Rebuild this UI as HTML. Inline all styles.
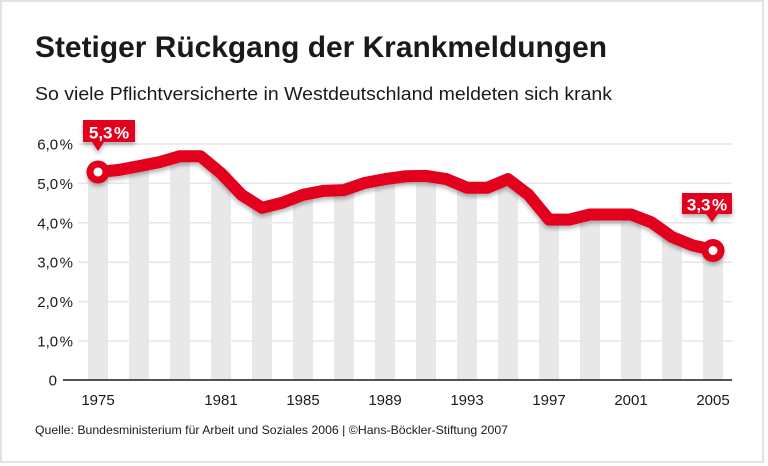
<!DOCTYPE html>
<html><head><meta charset="utf-8"><style>
html,body{margin:0;padding:0;background:#fff;}
svg{display:block;}
text{font-family:"Liberation Sans",Arial,sans-serif;}
</style></head><body>
<svg width="768" height="466" viewBox="0 0 768 466" xmlns="http://www.w3.org/2000/svg">
<defs>
<filter id="sh" x="-5%" y="-20%" width="110%" height="150%">
<feGaussianBlur in="SourceAlpha" stdDeviation="2"/>
<feOffset dx="0" dy="3" result="b"/>
<feComponentTransfer><feFuncA type="linear" slope="0.3"/></feComponentTransfer>
<feMerge><feMergeNode/><feMergeNode in="SourceGraphic"/></feMerge>
</filter>
</defs>
<rect x="0" y="0" width="768" height="466" fill="#fff"/>
<rect x="1" y="1" width="762" height="461" fill="none" stroke="#e2e2e2" stroke-width="2"/>

<text x="35" y="57" font-size="29.5" font-weight="bold" fill="#1a1a1a" textLength="572" lengthAdjust="spacingAndGlyphs">Stetiger Rückgang der Krankmeldungen</text>
<text x="35" y="100" font-size="18.5" fill="#1a1a1a" textLength="577" lengthAdjust="spacingAndGlyphs">So viele Pflichtversicherte in Westdeutschland meldeten sich krank</text>

<!-- gridlines -->
<g stroke="#e6e6e6" stroke-width="1.5">
<line x1="78" y1="144" x2="732" y2="144"/>
<line x1="78" y1="183.4" x2="732" y2="183.4"/>
<line x1="78" y1="222.8" x2="732" y2="222.8"/>
<line x1="78" y1="262.2" x2="732" y2="262.2"/>
<line x1="78" y1="301.6" x2="732" y2="301.6"/>
<line x1="78" y1="341" x2="732" y2="341"/>
</g>

<!-- bars (odd years) -->
<g fill="#e8e8e8">
<rect x="88" y="172" width="20" height="208"/>
<rect x="129" y="166" width="20" height="214"/>
<rect x="170" y="156" width="20" height="224"/>
<rect x="211" y="173" width="20" height="207"/>
<rect x="252" y="208" width="20" height="172"/>
<rect x="293" y="195" width="20" height="185"/>
<rect x="334" y="190" width="20" height="190"/>
<rect x="375" y="179" width="20" height="201"/>
<rect x="416" y="176" width="20" height="204"/>
<rect x="457" y="188" width="20" height="192"/>
<rect x="498" y="179" width="20" height="201"/>
<rect x="539" y="220" width="20" height="160"/>
<rect x="580" y="215" width="20" height="165"/>
<rect x="621" y="215" width="20" height="165"/>
<rect x="662" y="237" width="20" height="143"/>
<rect x="703" y="250" width="20" height="130"/>
</g>

<!-- axis -->
<line x1="63" y1="380" x2="732" y2="380" stroke="#1a1a1a" stroke-width="1.6"/>

<!-- y labels -->
<g font-size="15" fill="#1a1a1a" text-anchor="end">
<text x="73" y="149.5">6,0<tspan dx="1.5">%</tspan></text>
<text x="73" y="188.9">5,0<tspan dx="1.5">%</tspan></text>
<text x="73" y="228.3">4,0<tspan dx="1.5">%</tspan></text>
<text x="73" y="267.7">3,0<tspan dx="1.5">%</tspan></text>
<text x="73" y="307.1">2,0<tspan dx="1.5">%</tspan></text>
<text x="73" y="346.5">1,0<tspan dx="1.5">%</tspan></text>
<text x="57" y="385.5">0</text>
</g>

<!-- x labels -->
<g font-size="15" fill="#1a1a1a" text-anchor="middle">
<text x="98" y="405">1975</text>
<text x="221" y="405">1981</text>
<text x="303" y="405">1985</text>
<text x="385" y="405">1989</text>
<text x="467" y="405">1993</text>
<text x="549" y="405">1997</text>
<text x="631" y="405">2001</text>
<text x="713" y="405">2005</text>
</g>

<!-- line -->
<g filter="url(#sh)">
<polyline fill="none" stroke="#e2001a" stroke-width="12" stroke-linejoin="round" stroke-linecap="round"
points="98,172 118.5,170 139,166.1 159.5,162.1 180,156.2 200.5,156.2 221,173.2 241.5,194.8 262,207.8 282.5,202.7 303,194.8 323.5,190.9 344,190.1 364.5,183 385,179.1 405.5,176.3 426,175.9 446.5,179.1 467,187.7 487.5,187.7 508,179.1 528.5,194.8 549,219.6 569.5,219.6 590,214.5 610.5,214.5 631,214.5 651.5,222.4 672,237 692.5,245.3 713,250"/>
<circle cx="98" cy="172" r="11.5" fill="#e2001a"/>
<circle cx="713" cy="250.5" r="11.5" fill="#e2001a"/>
</g>
<circle cx="98" cy="172" r="4.5" fill="#fff"/>
<circle cx="713" cy="250.5" r="4.5" fill="#fff"/>

<!-- callouts -->
<g filter="url(#sh)">
<path d="M83,120 H135 V142 H104 L98,151 L92,142 H83 Z" fill="#e2001a"/>
<path d="M682,193 H732 V214 H718 L712,222 L706,214 H682 Z" fill="#e2001a"/>
</g>
<text x="109" y="138.5" font-size="17" font-weight="bold" fill="#fff" text-anchor="middle">5,3<tspan dx="1.5">%</tspan></text>
<text x="707" y="210.5" font-size="17" font-weight="bold" fill="#fff" text-anchor="middle">3,3<tspan dx="1.5">%</tspan></text>

<text x="35" y="434" font-size="12" fill="#1a1a1a" textLength="473" lengthAdjust="spacingAndGlyphs">Quelle: Bundesministerium für Arbeit und Soziales 2006 | ©Hans-Böckler-Stiftung 2007</text>
</svg>
</body></html>
